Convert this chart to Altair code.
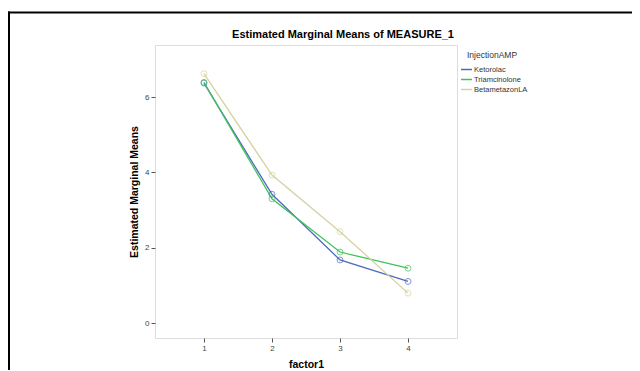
import altair as alt
import pandas as pd

factor = [1, 2, 3, 4]
ketorolac = [6.37, 3.42, 1.68, 1.11]
triamcinolone = [6.39, 3.30, 1.89, 1.46]
betametazon = [6.62, 3.93, 2.43, 0.80]
groups = ["Ketorolac", "Triamcinolone", "BetametazonLA"]
colors = ["#5068bd", "#3ec456", "#d6d1a0"]
y_ticks = [0, 2, 4, 6]
chart_title = "Estimated Marginal Means of MEASURE_1"
legend_heading = "InjectionAMP"

rows = []
for g, vals in zip(groups, [ketorolac, triamcinolone, betametazon]):
    for f, v in zip(factor, vals):
        rows.append({"factor1": f, "mean": v, "group": g})
df = pd.DataFrame(rows)

FONT = "Liberation Sans"

x = alt.X(
    "factor1:Q",
    scale=alt.Scale(domain=[0.28, 4.72], nice=False, zero=False),
    axis=alt.Axis(values=factor, title="factor1", format="d", domain=False, grid=False,
                  tickColor="#555", tickSize=4, labelColor="#444", labelFontSize=8,
                  labelFont=FONT, labelPadding=2, titleFont=FONT, titleFontSize=10.5,
                  titleFontWeight="bold", titleColor="#000", titlePadding=7),
)
y = alt.Y(
    "mean:Q",
    scale=alt.Scale(domain=[-0.39, 7.38], nice=False, zero=False),
    axis=alt.Axis(values=y_ticks, title="Estimated Marginal Means", format="d", domain=False,
                  grid=False, tickColor="#555", tickSize=4, labelColor="#444", labelFontSize=8,
                  labelFont=FONT, labelPadding=2, titleFont=FONT, titleFontSize=10.5,
                  titleFontWeight="bold", titleColor="#000", titlePadding=5),
)
color = alt.Color(
    "group:N",
    sort=groups,
    scale=alt.Scale(domain=groups, range=colors),
    legend=alt.Legend(title=None, orient="none", legendX=305, legendY=18,
                      symbolType="stroke", symbolStrokeWidth=1.5, symbolSize=120,
                      labelFont=FONT, labelFontSize=7.5, labelColor="#333",
                      labelOffset=1, rowPadding=0),
)

lines = alt.Chart(df).mark_line(strokeWidth=1.3).encode(x=x, y=y, color=color)
points = alt.Chart(df).mark_point(shape="circle", filled=False, size=35, strokeWidth=1).encode(
    x=x, y=y, color=alt.Color("group:N", scale=alt.Scale(domain=groups, range=colors), legend=None)
)

one = pd.DataFrame({"a": [0]})
title_text = alt.Chart(one).mark_text(align="center", baseline="middle", font=FONT,
                                      fontSize=11, fontWeight="bold", color="#000").encode(
    x=alt.value(188), y=alt.value(-10), text=alt.value(chart_title))
legend_title = alt.Chart(one).mark_text(align="left", baseline="middle", font=FONT,
                                        fontSize=8.5, color="#333").encode(
    x=alt.value(312), y=alt.value(10), text=alt.value(legend_heading))
border_top = alt.Chart(one).mark_rule(color="#000", strokeWidth=2).encode(
    x=alt.value(-147), x2=alt.value(500), y=alt.value(-32.5))
border_left = alt.Chart(one).mark_rule(color="#000", strokeWidth=2).encode(
    x=alt.value(-146), y=alt.value(-33.5), y2=alt.value(340))

chart = alt.layer(lines, points, title_text, legend_title, border_top, border_left).properties(
    width=302,
    height=293,
    padding={"left": 147, "top": 37, "right": 175, "bottom": 32},
    autosize=alt.AutoSizeParams(type="none"),
).configure_view(fill="#f0f0f0", stroke="#888", strokeWidth=1.5).configure(background="white")

chart.save("out.html", embed_options={"renderer": "svg", "actions": False})
